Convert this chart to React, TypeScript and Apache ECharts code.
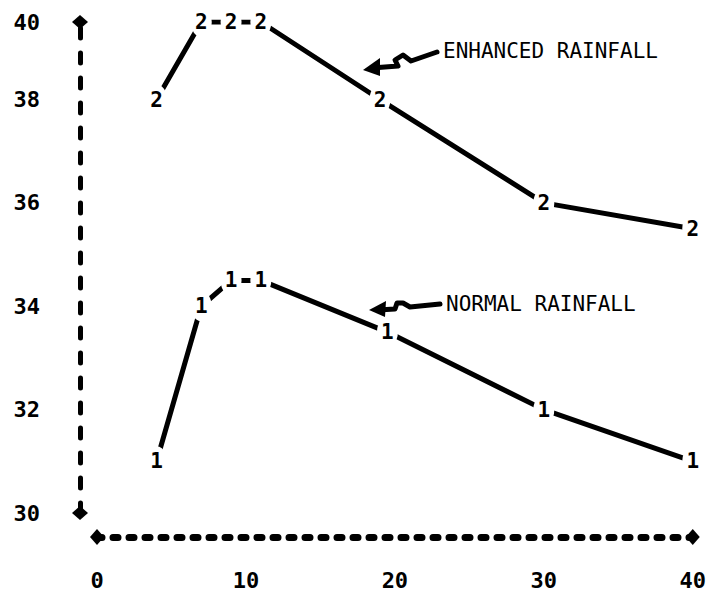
import React, { useEffect, useRef } from "react";
import * as echarts from "echarts";

// Data
const enhancedX = [4, 7, 9, 11, 19, 30, 40];
const enhancedY = [38, 39.5, 39.5, 39.5, 38, 36, 35.5];
const normalX = [4, 7, 9, 11, 19.5, 30, 40];
const normalY = [31, 34, 34.5, 34.5, 33.5, 32, 31];
const xMin = 0;
const xMax = 40;
const xInterval = 10;
const yMin = 30;
const yTopRow = 39.5; // top printer row, labelled "40"
const yInterval = 2;
const enhancedMark = "2";
const normalMark = "1";
const enhancedName = "ENHANCED RAINFALL";
const normalName = "NORMAL RAINFALL";

const pairs = (xs: number[], ys: number[]) => xs.map((x, i) => [x, ys[i]]);

export default function App() {
  const ref = useRef<HTMLDivElement>(null);
  useEffect(() => {
    if (!ref.current) return;
    const chart = echarts.init(ref.current, null, { renderer: "svg" });
    const mono = "DejaVu Sans Mono";
    const markLabel = (txt: string) => ({
      show: true,
      position: "inside",
      formatter: txt,
      fontFamily: mono,
      fontWeight: "bold",
      fontSize: 21,
      color: "#000",
    });
    const lineCommon = {
      type: "line",
      symbol: "none",
      lineStyle: { color: "#000", width: 5 },
      emphasis: { disabled: true },
      z: 2,
    };
    const markCommon = {
      type: "scatter",
      symbol: "circle",
      symbolSize: [21, 30],
      itemStyle: { color: "#fff", borderWidth: 0, opacity: 1 },
      emphasis: { disabled: true },
      z: 3,
    };
    chart.setOption({
      animation: false,
      backgroundColor: "#fff",
      grid: { left: 97, right: 12, top: 22, bottom: 90 },
      xAxis: {
        type: "value",
        min: xMin,
        max: xMax,
        interval: xInterval,
        offset: 24,
        splitLine: { show: false },
        axisTick: { show: false },
        axisLine: {
          show: true,
          onZero: false,
          symbol: ["diamond", "diamond"],
          symbolSize: [16, 14],
          lineStyle: { color: "#000", width: 7, type: [5, 11], cap: "round" },
        },
        axisLabel: {
          margin: 32,
          color: "#000",
          fontFamily: mono,
          fontWeight: "bold",
          fontSize: 22,
          showMaxLabel: true,
          showMinLabel: true,
        },
      },
      yAxis: {
        type: "value",
        min: yMin,
        max: yTopRow,
        interval: yInterval,
        offset: 17,
        splitLine: { show: false },
        axisTick: { show: false },
        axisLine: {
          show: true,
          onZero: false,
          symbol: ["diamond", "diamond"],
          symbolSize: [16, 14],
          lineStyle: { color: "#000", width: 5, type: [10, 15], cap: "round" },
        },
        axisLabel: {
          margin: 40,
          color: "#000",
          fontFamily: mono,
          fontWeight: "bold",
          fontSize: 22,
          showMaxLabel: true,
          formatter: (v: number) => String(Math.round(v)),
        },
      },
      series: [
        { ...lineCommon, name: enhancedName, data: pairs(enhancedX, enhancedY) },
        { ...lineCommon, name: normalName, data: pairs(normalX, normalY) },
        {
          ...markCommon,
          name: enhancedName + " marks",
          data: pairs(enhancedX, enhancedY),
          label: markLabel(enhancedMark),
        },
        {
          ...markCommon,
          name: normalName + " marks",
          data: pairs(normalX, normalY),
          label: markLabel(normalMark),
        },
      ],
      graphic: [
        {
          type: "text",
          left: 443,
          top: 40,
          style: { text: enhancedName, fontFamily: mono, fontSize: 21, fill: "#000" },
        },
        {
          type: "polyline",
          shape: { points: [[437, 52], [411, 61], [403, 55], [395, 60], [398, 66], [372, 68]] },
          style: { stroke: "#000", lineWidth: 5, fill: null, lineJoin: "round", lineCap: "round" },
        },
        {
          type: "polygon",
          shape: { points: [[363, 70], [380, 58], [380, 76]] },
          style: { fill: "#000" },
        },
        {
          type: "text",
          left: 446,
          top: 293,
          style: { text: normalName, fontFamily: mono, fontSize: 21, fill: "#000" },
        },
        {
          type: "polyline",
          shape: { points: [[440, 304], [410, 307], [403, 303], [397, 303], [395, 309], [378, 310]] },
          style: { stroke: "#000", lineWidth: 5, fill: null, lineJoin: "round", lineCap: "round" },
        },
        {
          type: "polygon",
          shape: { points: [[369, 310], [386, 301], [385, 317]] },
          style: { fill: "#000" },
        },
      ],
    });
    return () => chart.dispose();
  }, []);
  return <div ref={ref} style={{ width: 709, height: 603, position: "absolute", left: 0, top: 0 }} />;
}
